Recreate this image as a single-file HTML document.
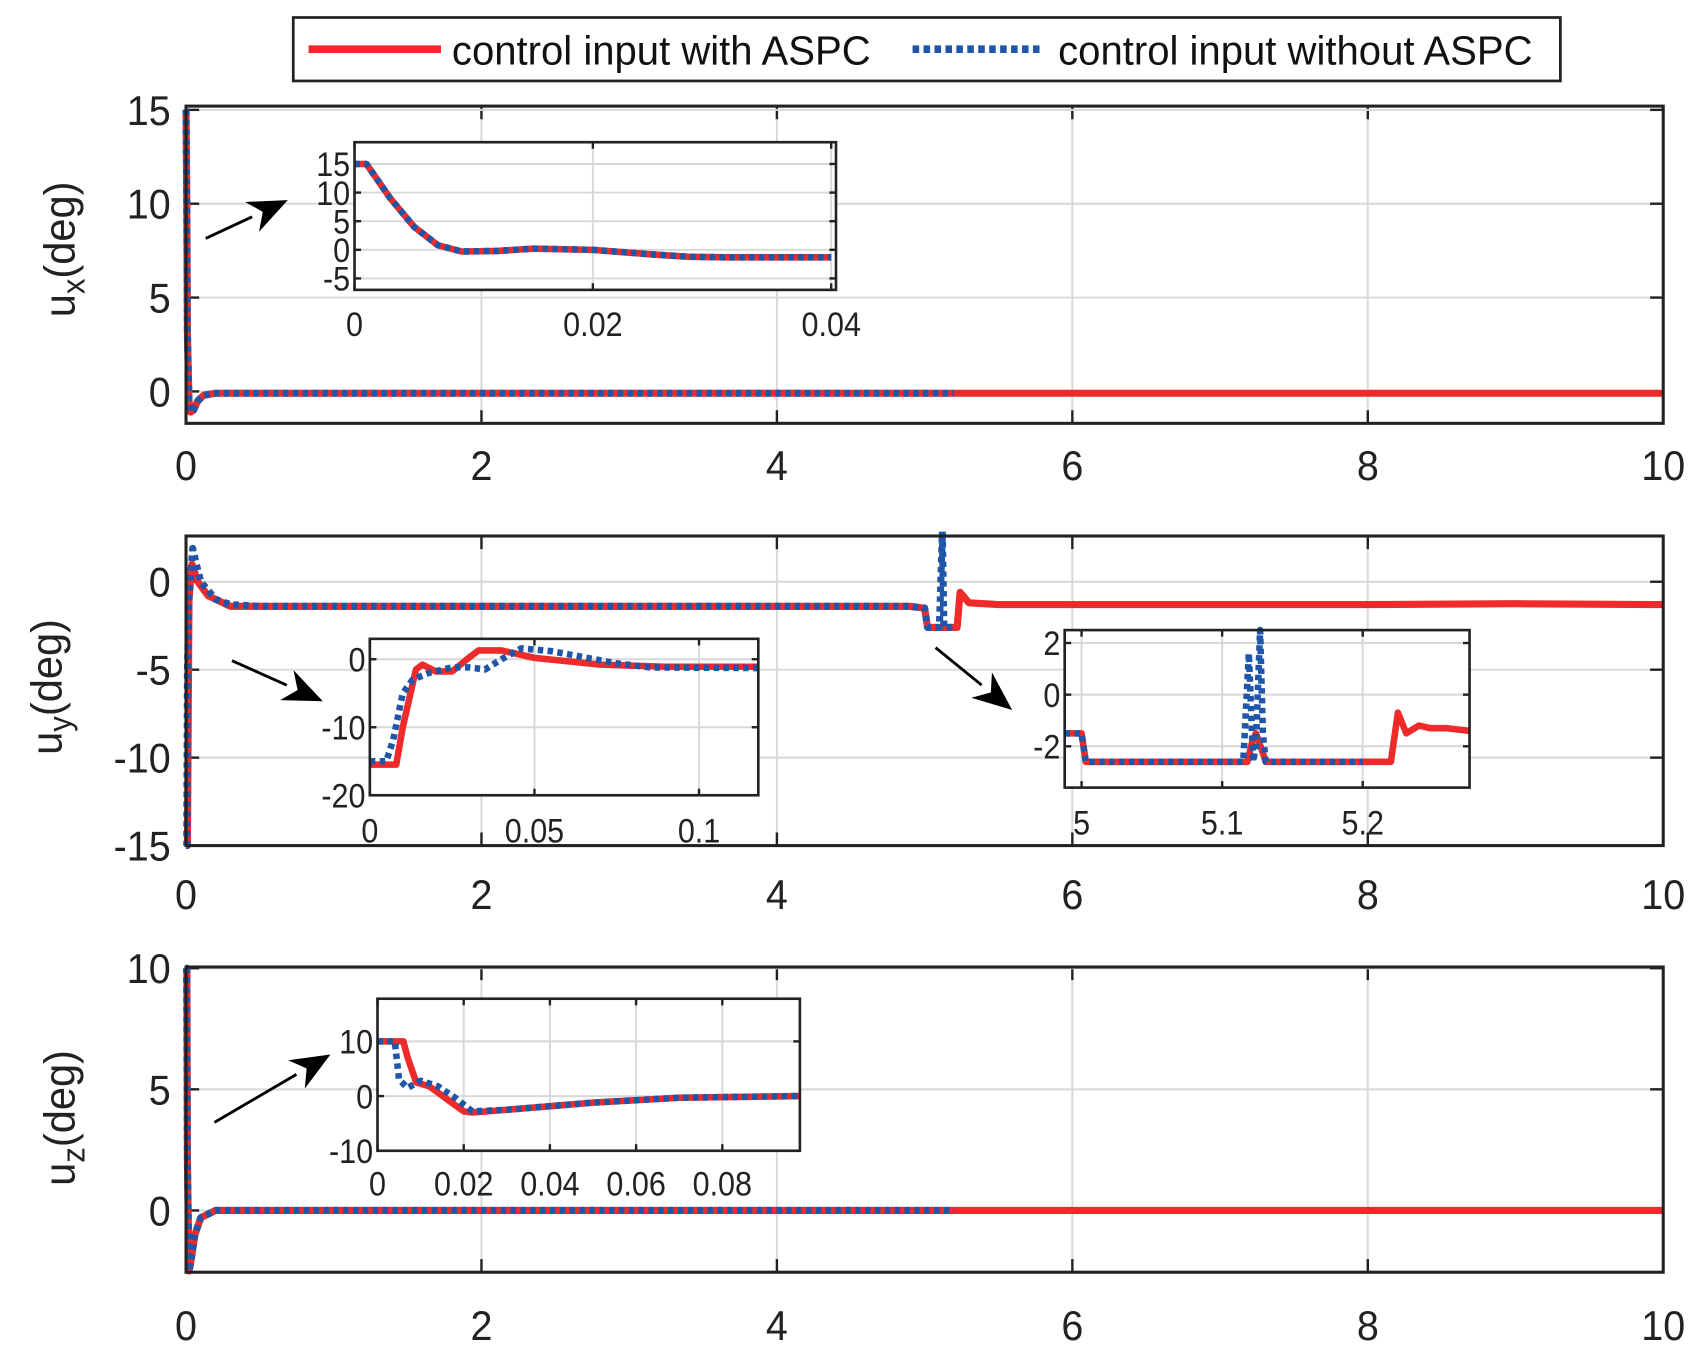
<!DOCTYPE html>
<html><head><meta charset="utf-8"><style>
html,body{margin:0;padding:0;background:#fff;}
svg{display:block;font-family:"Liberation Sans",Arial,sans-serif;}
</style></head><body>
<svg id="fig" width="1707" height="1363" viewBox="0 0 1560 1246" preserveAspectRatio="none" xmlns="http://www.w3.org/2000/svg">
<g>
<rect x="268" y="16" width="1158" height="58" fill="#fff" stroke="#222" stroke-width="2.5"/>
<line x1="282" y1="45" x2="403" y2="45" stroke="#ee2a2a" stroke-width="7"/>
<text transform="translate(413,59) scale(0.99,1)" font-size="37" fill="#111">control input with ASPC</text>
<line x1="834" y1="45" x2="954" y2="45" stroke="#1f56a8" stroke-width="7" stroke-dasharray="6 4"/>
<text transform="translate(967,59) scale(0.99,1)" font-size="37" fill="#111">control input without ASPC</text>
</g>
</svg>
<script>
// ---------- data ----------
const p1MainT = [0,0.005,0.01,0.02,0.03,0.05,0.08,0.12,0.2,0.5,1,2,3,4,5,6,7,8,9,10];
const p1MainRed = [15,10,3,-0.5,-1.1,-1.0,-0.5,-0.2,-0.1,-0.1,-0.1,-0.1,-0.1,-0.1,-0.1,-0.1,-0.1,-0.1,-0.1,-0.1];
const p1MainBlueT = [0,0.005,0.01,0.02,0.03,0.05,0.08,0.12,0.2,0.5,1,2,3,4,5,5.2];
const p1MainBlue = [15,10,3,-0.5,-1.1,-1.0,-0.5,-0.2,-0.1,-0.1,-0.1,-0.1,-0.1,-0.1,-0.1,-0.1];
const p1InsetT = [0,0.001,0.003,0.005,0.007,0.009,0.012,0.015,0.02,0.025,0.028,0.031,0.04];
const p1InsetRed = [15,15,9,4,0.8,-0.3,-0.2,0.2,0,-0.8,-1.2,-1.3,-1.3];
const p1InsetBlue = [15,15,9,4,0.8,-0.3,-0.2,0.2,0,-0.8,-1.2,-1.3,-1.3];
const p2MainRedT = [0,0.01,0.02,0.04,0.08,0.15,0.3,0.5,1,2,3,4,4.9,5.0,5.02,5.2,5.22,5.24,5.3,5.5,6,7,8,9,10];
const p2MainRed = [-15,-15,-1,1,0,-0.8,-1.4,-1.4,-1.4,-1.4,-1.4,-1.4,-1.4,-1.5,-2.6,-2.6,-2.6,-0.6,-1.2,-1.3,-1.3,-1.3,-1.3,-1.25,-1.3];
const p2MainBlueT = [0,0.005,0.01,0.02,0.045,0.07,0.1,0.2,0.3,0.5,1,2,3,4,4.9,5.0,5.02,5.1,5.12,5.13,5.14,5.2];
const p2MainBlue = [-15,-15,-5,-1,1.9,1,0,-1,-1.3,-1.4,-1.4,-1.4,-1.4,-1.4,-1.4,-1.5,-2.6,-2.6,2.8,-2.6,-2.6,-2.6];
const p2InsetARedT = [0,0.008,0.01,0.014,0.016,0.02,0.025,0.03,0.033,0.04,0.05,0.07,0.09,0.118];
const p2InsetARed = [-15.5,-15.5,-10,-1.5,-0.8,-1.8,-1.8,0.2,1.3,1.3,0.2,-0.8,-1.1,-1.1];
const p2InsetABlueT = [0,0.005,0.007,0.01,0.013,0.018,0.025,0.03,0.035,0.04,0.046,0.055,0.065,0.075,0.085,0.118];
const p2InsetABlue = [-15,-15,-12,-5,-3,-2,-1.2,-1.2,-1.5,0,1.6,1.2,0.3,-0.6,-1.2,-1.3];
const p2InsetBRedT = [4.988,5.0,5.003,5.118,5.121,5.124,5.128,5.131,5.22,5.225,5.231,5.24,5.248,5.26,5.276];
const p2InsetBRed = [-1.5,-1.5,-2.6,-2.6,-1.9,-1.5,-2.1,-2.6,-2.6,-0.7,-1.5,-1.2,-1.3,-1.3,-1.4];
const p2InsetBBlueT = [4.988,5.0,5.003,5.115,5.119,5.122,5.124,5.127,5.129,5.131,5.134,5.2];
const p2InsetBBlue = [-1.5,-1.5,-2.6,-2.6,1.6,-2.6,-2.0,2.5,-1.5,-2.6,-2.6,-2.6];
const p3MainRedT = [0,0.006,0.01,0.02,0.03,0.06,0.1,0.2,0.5,1,2,3,4,5,6,7,8,9,10];
const p3MainRed = [10,10,2,-2.5,-2.2,-1,-0.3,0,0,0,0,0,0,0,0,0,0,0,0];
const p3MainBlueT = [0,0.004,0.01,0.02,0.03,0.06,0.1,0.2,0.5,1,2,3,4,5,5.2];
const p3MainBlue = [10,10,2,-2.5,-2.2,-1,-0.3,0,0,0,0,0,0,0,0];
const p3InsetRedT = [0,0.006,0.007,0.009,0.012,0.016,0.02,0.022,0.03,0.05,0.07,0.098];
const p3InsetRed = [10,10,7,2.5,1.8,-0.5,-2.8,-3,-2.5,-1.2,-0.3,0];
const p3InsetBlueT = [0,0.004,0.005,0.007,0.01,0.014,0.018,0.022,0.03,0.05,0.07,0.098];
const p3InsetBlue = [10,10,3,1.5,2.8,1.8,-0.3,-2.8,-2.5,-1.2,-0.3,0];
const mainXTicks = [0,2,4,6,8,10];
const mainXLabels = ["0","2","4","6","8","10"];
const p1YTicks = [0,5,10,15];
const p2YTicks = [-15,-10,-5,0];
const p3YTicks = [0,5,10];
const i1XTicks = [0,0.02,0.04]; const i1XLabels = ["0","0.02","0.04"];
const i1YTicks = [-5,0,5,10,15];
const i2XTicks = [0,0.05,0.1]; const i2XLabels = ["0","0.05","0.1"];
const i2YTicks = [-20,-10,0];
const i3XTicks = [5,5.1,5.2]; const i3XLabels = ["5","5.1","5.2"];
const i3YTicks = [-2,0,2];
const i4XTicks = [0,0.02,0.04,0.06,0.08]; const i4XLabels = ["0","0.02","0.04","0.06","0.08"];
const i4YTicks = [-10,0,10];

const NS = "http://www.w3.org/2000/svg";
const svg = document.getElementById('fig');
function mk(tag, attrs, parent) {
  const e = document.createElementNS(NS, tag);
  for (const k in attrs) e.setAttribute(k, attrs[k]);
  (parent || svg).appendChild(e);
  return e;
}
function axes(cfg) {
  const g = mk('g', {});
  
  
  const sx = v => cfg.x0 + (v - cfg.xmin) / (cfg.xmax - cfg.xmin) * (cfg.x1 - cfg.x0);
  const sy = v => cfg.y1 - (v - cfg.ymin) / (cfg.ymax - cfg.ymin) * (cfg.y1 - cfg.y0);
  mk('rect', {x: cfg.x0, y: cfg.y0, width: cfg.x1 - cfg.x0, height: cfg.y1 - cfg.y0, fill: '#fff'}, g);
  const fs = cfg.fs, tl = cfg.inset ? 6 : 12, sc = cfg.inset ? 0.9 : 0.95;
  cfg.xt.forEach((t, i) => {
    const x = sx(t);
    mk('line', {x1: x, x2: x, y1: cfg.y0, y2: cfg.y1, stroke: '#d8d8d8', 'stroke-width': 1.8}, g);
    mk('line', {x1: x, x2: x, y1: cfg.y1, y2: cfg.y1 - tl, stroke: '#222', 'stroke-width': 2.2}, g);
    mk('line', {x1: x, x2: x, y1: cfg.y0, y2: cfg.y0 + tl, stroke: '#222', 'stroke-width': 2.2}, g);
    const tx = mk('text', {transform: `translate(${x},${cfg.y1 + cfg.xlOff}) scale(${sc},1)`, 'font-size': fs, 'text-anchor': 'middle', fill: '#222'}, g);
    tx.textContent = cfg.xl[i];
    
    
  });
  cfg.yt.forEach(t => {
    const y = sy(t);
    mk('line', {x1: cfg.x0, x2: cfg.x1, y1: y, y2: y, stroke: '#d8d8d8', 'stroke-width': 1.8}, g);
    mk('line', {x1: cfg.x0, x2: cfg.x0 + tl, y1: y, y2: y, stroke: '#222', 'stroke-width': 2.2}, g);
    mk('line', {x1: cfg.x1, x2: cfg.x1 - tl, y1: y, y2: y, stroke: '#222', 'stroke-width': 2.2}, g);
    const tx = mk('text', {transform: `translate(${cfg.x0 - (cfg.inset ? 4 : 14)},${y + fs * 0.36}) scale(${sc},1)`, 'font-size': fs, 'text-anchor': 'end', fill: '#222'}, g);
    tx.textContent = String(t);
    
    
  });
  const clipId = 'c' + cfg.name;
  const cp = mk('clipPath', {id: clipId}, g);
  mk('rect', {x: cfg.x0 - 4, y: cfg.y0 - 4, width: cfg.x1 - cfg.x0 + 8, height: cfg.y1 - cfg.y0 + 8}, cp);
  const lw = cfg.inset ? 6 : 6.5;
  cfg.series.forEach(s => {
    const pts = s.t.map((t, i) => sx(t).toFixed(1) + ',' + sy(s.v[i]).toFixed(1)).join(' ');
    const pl = mk('polyline', {points: pts, fill: 'none', stroke: s.c, 'stroke-width': lw, 'stroke-linejoin': 'round', 'clip-path': `url(#${clipId})`}, g);
    if (s.dash) pl.setAttribute('stroke-dasharray', '5 4');
    
    
  });
  mk('rect', {x: cfg.x0, y: cfg.y0, width: cfg.x1 - cfg.x0, height: cfg.y1 - cfg.y0, fill: 'none', stroke: '#222', 'stroke-width': cfg.inset ? 2.4 : 2.8}, g);
  return g;
}
function ylabel(x, y, sub, name) {
  const t = mk('text', {transform: `translate(${x},${y}) rotate(-90) scale(0.95,1)`, 'font-size': 40, 'text-anchor': 'middle', fill: '#222'});
  t.innerHTML = `u<tspan font-size="30" dy="9">${sub}</tspan><tspan dy="-9">(deg)</tspan>`;
  
  
}
function arrow(x1, y1, x2, y2, name) {
  const g = mk('g', {});
  
  
  const a = Math.atan2(y2 - y1, x2 - x1), L = 36, W = 15;
  const bx = x2 - L * Math.cos(a), by = y2 - L * Math.sin(a);
  mk('line', {x1, y1, x2: bx, y2: by, stroke: '#000', 'stroke-width': 2.6}, g);
  const px = -Math.sin(a) * W, py = Math.cos(a) * W;
  mk('polygon', {points: `${x2},${y2} ${bx + px},${by + py} ${bx + 0.3 * L * Math.cos(a)},${by + 0.3 * L * Math.sin(a)} ${bx - px},${by - py}`, fill: '#000'}, g);
}
const R = '#ee2a2a', B = '#1f56a8';
const X1 = 1520;
axes({name: 'panel-ux', x0: 170, x1: X1, y0: 97, y1: 387, xmin: 0, xmax: 10, ymin: -1.7, ymax: 15.2, xt: mainXTicks, xl: mainXLabels, yt: p1YTicks, fs: 38, xlOff: 52,
  series: [{t: p1MainT, v: p1MainRed, c: R, n: 'ux-with-aspc'}, {t: p1MainBlueT, v: p1MainBlue, c: B, dash: 1, n: 'ux-without-aspc'}]});
axes({name: 'inset-ux', inset: 1, x0: 324, x1: 764, y0: 130, y1: 265, xmin: 0, xmax: 0.0404, ymin: -7, ymax: 18.8, xt: i1XTicks, xl: i1XLabels, yt: i1YTicks, fs: 31, xlOff: 42,
  series: [{t: p1InsetT, v: p1InsetRed, c: R, n: 'ux-inset-with'}, {t: p1InsetT, v: p1InsetBlue, c: B, dash: 1, n: 'ux-inset-without'}]});
ylabel(68, 228, 'x', 'y-axis-title-ux');
arrow(188, 218, 263, 183, 'arrow-ux');
axes({name: 'panel-uy', x0: 170, x1: X1, y0: 490, y1: 773, xmin: 0, xmax: 10, ymin: -15, ymax: 2.6, xt: mainXTicks, xl: mainXLabels, yt: p2YTicks, fs: 38, xlOff: 58,
  series: [{t: p2MainRedT, v: p2MainRed, c: R, n: 'uy-with-aspc'}, {t: p2MainBlueT, v: p2MainBlue, c: B, dash: 1, n: 'uy-without-aspc'}]});
axes({name: 'inset-uy-a', inset: 1, x0: 338, x1: 693, y0: 584, y1: 727, xmin: 0, xmax: 0.118, ymin: -20, ymax: 3, xt: i2XTicks, xl: i2XLabels, yt: i2YTicks, fs: 31, xlOff: 43,
  series: [{t: p2InsetARedT, v: p2InsetARed, c: R, n: 'uy-inset-a-with'}, {t: p2InsetABlueT, v: p2InsetABlue, c: B, dash: 1, n: 'uy-inset-a-without'}]});
axes({name: 'inset-uy-b', inset: 1, x0: 973, x1: 1343, y0: 576, y1: 720, xmin: 4.988, xmax: 5.276, ymin: -3.6, ymax: 2.5, xt: i3XTicks, xl: i3XLabels, yt: i3YTicks, fs: 31, xlOff: 43,
  series: [{t: p2InsetBRedT, v: p2InsetBRed, c: R, n: 'uy-inset-b-with'}, {t: p2InsetBBlueT, v: p2InsetBBlue, c: B, dash: 1, n: 'uy-inset-b-without'}]});
ylabel(56, 628, 'y', 'y-axis-title-uy');
arrow(212, 604, 295, 641, 'arrow-uy-a');
arrow(855, 592, 925, 649, 'arrow-uy-b');
axes({name: 'panel-uz', x0: 170, x1: X1, y0: 884, y1: 1163, xmin: 0, xmax: 10, ymin: -2.55, ymax: 10.05, xt: mainXTicks, xl: mainXLabels, yt: p3YTicks, fs: 38, xlOff: 62,
  series: [{t: p3MainRedT, v: p3MainRed, c: R, n: 'uz-with-aspc'}, {t: p3MainBlueT, v: p3MainBlue, c: B, dash: 1, n: 'uz-without-aspc'}]});
axes({name: 'inset-uz', inset: 1, x0: 345, x1: 731, y0: 913, y1: 1052, xmin: 0, xmax: 0.098, ymin: -10, ymax: 17.8, xt: i4XTicks, xl: i4XLabels, yt: i4YTicks, fs: 31, xlOff: 41,
  series: [{t: p3InsetRedT, v: p3InsetRed, c: R, n: 'uz-inset-with'}, {t: p3InsetBlueT, v: p3InsetBlue, c: B, dash: 1, n: 'uz-inset-without'}]});
ylabel(68, 1022, 'z', 'y-axis-title-uz');
arrow(196, 1026, 302, 964, 'arrow-uz');
</script>
</body></html>
